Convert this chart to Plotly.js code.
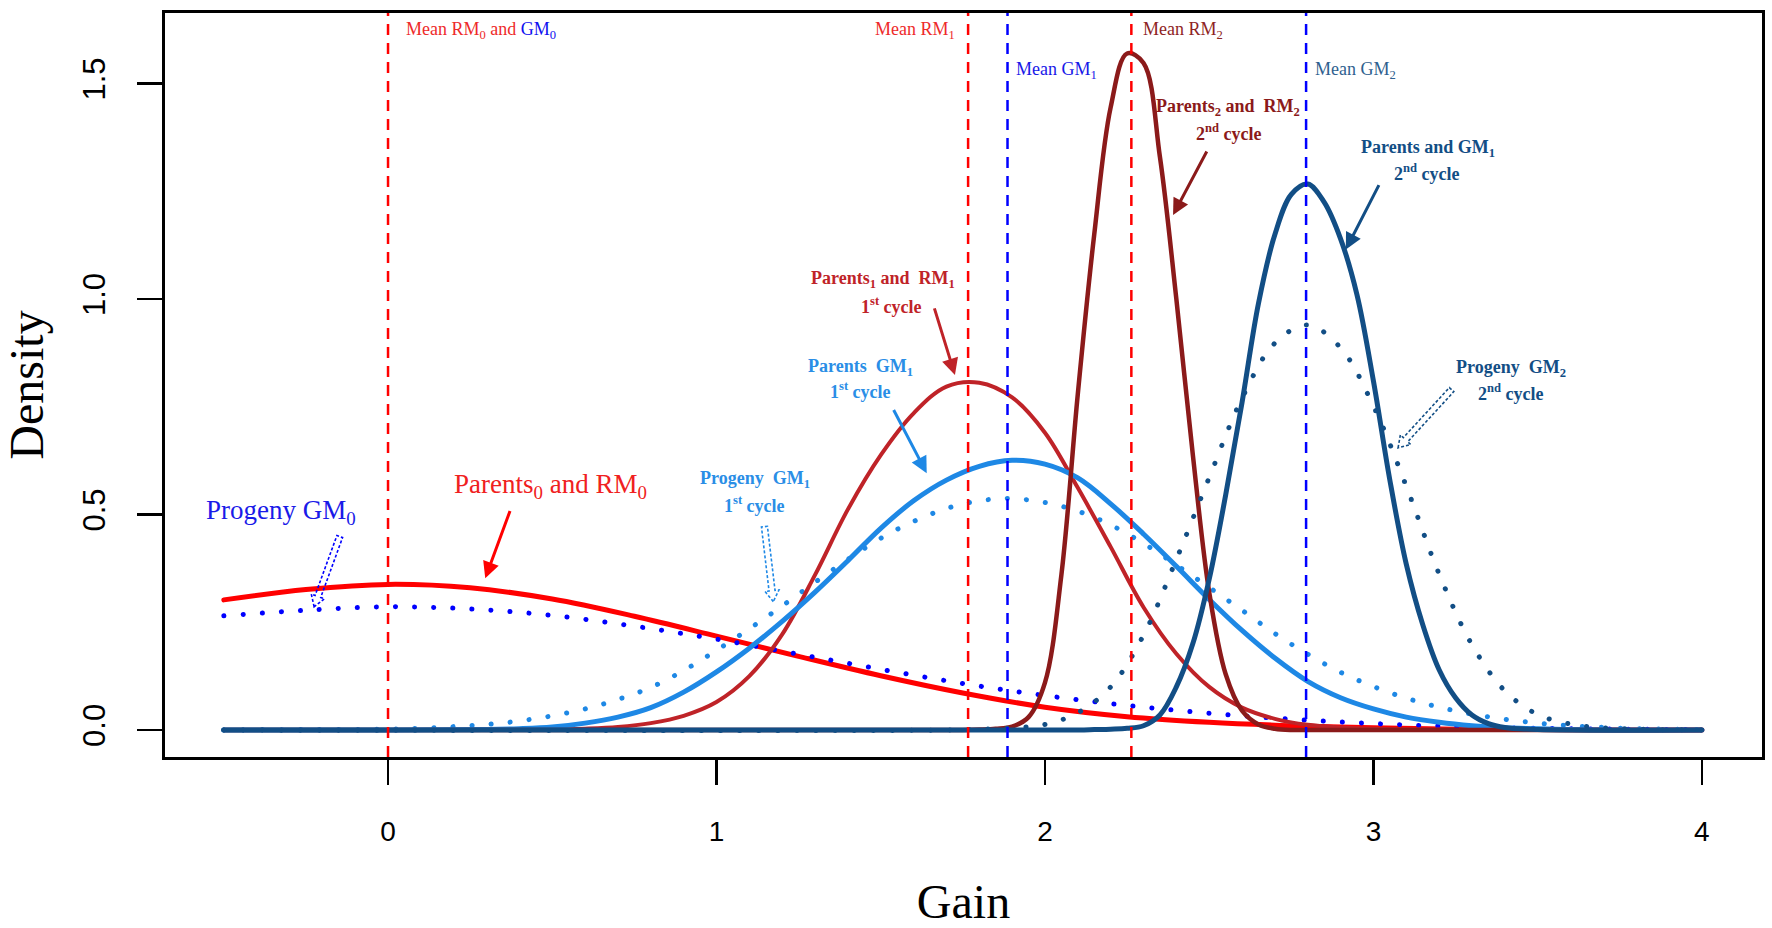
<!DOCTYPE html>
<html><head><meta charset="utf-8">
<script src="https://cdn.plot.ly/plotly-3.0.1.min.js"></script>
<style>
html,body{margin:0;padding:0;background:#fff;}
#chart{width:1772px;height:928px;}
.scatterlayer .js-line{stroke-linecap:round;}
</style></head><body><div id="chart"></div>
<script>
// ---------- data ----------
const xParents0 = [-0.5,-0.25,0,0.25,0.5,0.75,1.0,1.25,1.5,1.75,2.0,2.25,2.5,2.75,3.0,3.25,3.5,3.75,4.0];
const yParents0 = [0.302,0.326,0.338,0.330,0.304,0.264,0.218,0.171,0.126,0.086,0.053,0.031,0.018,0.010,0.005,0.002,0.001,0.0,0.0];

const xProgeny0 = [-0.5,-0.25,0,0.25,0.5,0.75,1.0,1.25,1.5,1.75,2.0,2.25,2.5,2.75,3.0,3.25,3.5,3.75,4.0];
const yProgeny0 = [0.265,0.278,0.286,0.281,0.266,0.241,0.211,0.176,0.141,0.108,0.080,0.057,0.039,0.025,0.015,0.008,0.004,0.002,0.001];

const xProgeny1 = [-0.5,-0.25,0,0.1,0.2,0.3,0.4,0.5,0.6,0.7,0.8,0.9,1.0,1.1,1.2,1.3,1.4,1.5,1.6,1.7,1.8,1.9,2.0,2.1,2.2,2.3,2.4,2.5,2.6,2.7,2.8,2.9,3.0,3.1,3.2,3.3,3.4,3.5,3.6,3.7,3.8,3.9,4.0];
const yProgeny1 = [0,0.001,0.002,0.004,0.008,0.013,0.021,0.033,0.049,0.071,0.099,0.138,0.185,0.235,0.288,0.343,0.396,0.445,0.484,0.514,0.532,0.537,0.528,0.508,0.476,0.433,0.383,0.331,0.278,0.224,0.176,0.134,0.101,0.074,0.053,0.037,0.025,0.016,0.010,0.006,0.003,0.002,0.001];

const xParentsGM1 = [-0.5,0,0.3,0.4,0.5,0.6,0.7,0.8,0.9,1.0,1.1,1.2,1.3,1.4,1.5,1.6,1.7,1.8,1.9,2.0,2.1,2.2,2.3,2.4,2.5,2.6,2.7,2.8,2.9,3.0,3.1,3.2,3.3,3.4,3.5,3.6,3.8,4.0];
const yParentsGM1 = [0,0,0.001,0.003,0.007,0.016,0.030,0.052,0.088,0.135,0.190,0.252,0.320,0.393,0.468,0.532,0.580,0.612,0.626,0.617,0.585,0.525,0.455,0.380,0.303,0.231,0.167,0.113,0.075,0.049,0.030,0.018,0.010,0.005,0.003,0.001,0,0];

const xParents1 = [-0.5,0.3,0.4,0.5,0.6,0.7,0.8,0.9,1.0,1.1,1.2,1.3,1.4,1.5,1.6,1.7,1.8,1.9,2.0,2.1,2.2,2.3,2.4,2.5,2.6,2.7,2.8,2.9,3.0,3.2,3.5,4.0];
const yParents1 = [0,0,0.0005,0.001,0.003,0.007,0.016,0.033,0.065,0.125,0.222,0.360,0.512,0.638,0.735,0.797,0.806,0.772,0.690,0.562,0.425,0.285,0.177,0.100,0.052,0.026,0.012,0.006,0.003,0.001,0,0];

const xParents2 = [-0.5,1.5,1.75,1.8,1.85,1.9,1.95,2.0,2.05,2.1,2.15,2.2,2.25,2.3,2.35,2.4,2.45,2.5,2.55,2.6,2.65,2.7,2.75,2.8,3.0,4.0];
const yParents2 = [0,0,0,0.001,0.003,0.008,0.03,0.11,0.36,0.78,1.15,1.445,1.57,1.548,1.33,1.0,0.64,0.32,0.13,0.045,0.013,0.003,0,0,0,0];

const xProgeny2 = [-0.5,1.7,1.8,1.9,2.0,2.1,2.2,2.3,2.4,2.5,2.6,2.7,2.8,2.9,3.0,3.1,3.2,3.3,3.4,3.5,3.6,3.7,3.8,4.0];
const yProgeny2 = [0,0,0.002,0.005,0.013,0.04,0.10,0.22,0.396,0.586,0.77,0.898,0.94,0.887,0.752,0.566,0.362,0.198,0.091,0.036,0.014,0.005,0.002,0];

const xParentsGM2 = [-0.5,2.1,2.15,2.2,2.25,2.3,2.35,2.4,2.45,2.5,2.55,2.6,2.65,2.7,2.75,2.8,2.85,2.9,2.95,3.0,3.05,3.1,3.15,3.2,3.25,3.3,3.35,3.4,3.5,4.0];
const yParentsGM2 = [0,0,0.001,0.002,0.004,0.01,0.035,0.1,0.2,0.35,0.545,0.76,0.99,1.15,1.243,1.267,1.225,1.14,1.01,0.81,0.58,0.385,0.245,0.14,0.075,0.035,0.015,0.006,0.001,0];

const meanX = [0, 1.766, 1.886, 2.263, 2.795];
const meanColors = ['#FF0000','#FF0000','#0000FF','#FF0000','#0000FF'];

const xTicks = [0,1,2,3,4];
const yTicks = [0,0.5,1.0,1.5];
const yTickText = ['0.0','0.5','1.0','1.5'];

// ---------- styling ----------
const C = {
  red:'#FF0000', blue:'#0000FF', fire:'#BF2328', light:'#1E88E5', dark:'#8B1A1A', navy:'#124E85'
};
const DOT = '0.1px,19px';
function tr(x,y,color,width,dash){
  return {x:x,y:y,type:'scatter',mode:'lines',hoverinfo:'skip',showlegend:false,
    line:{color:color,width:width,dash:dash||'solid',shape:'spline',smoothing:1}};
}
const traces = [
  tr(xParents0,yParents0,C.red,5),
  tr(xProgeny0,yProgeny0,C.blue,5,DOT),
  tr(xProgeny1,yProgeny1,C.light,5,DOT),
  tr(xParents1,yParents1,C.fire,4),
  tr(xParentsGM1,yParentsGM1,C.light,5),
  tr(xParents2,yParents2,C.dark,4.5),
  tr(xProgeny2,yProgeny2,C.navy,5,DOT),
  tr(xParentsGM2,yParentsGM2,C.navy,5)
];

const XR = [-0.679, 4.183], YR = [-0.0626, 1.664];
const M = {l:165, r:10, t:13, b:171};
const pxX = (1772-M.l-M.r)/(XR[1]-XR[0]);
const pxY = (928-M.t-M.b)/(YR[1]-YR[0]);

const shapes = meanX.map((mx,i)=>({type:'line',xref:'x',yref:'paper',x0:mx,x1:mx,y0:0,y1:1,
  line:{color:meanColors[i],width:2.5,dash:'11px,8px'},layer:'above'}));

function hollowArrow(tx,ty,hx,hy,color){
  const dx=(tx-hx)*pxX, dy=(ty-hy)*pxY, L=Math.hypot(dx,dy);
  const ux=dx/L, uy=dy/L, px=-uy, py=ux;
  const h=11, w=7, s=3;
  const P=[[0,0],[ux*h+px*w,uy*h+py*w],[ux*h+px*s,uy*h+py*s],[ux*L+px*s,uy*L+py*s],
           [ux*L-px*s,uy*L-py*s],[ux*h-px*s,uy*h-py*s],[ux*h-px*w,uy*h-py*w]];
  const path='M'+P.map(p=>p[0].toFixed(2)+','+p[1].toFixed(2)).join('L')+'Z';
  return {type:'path',xref:'x',yref:'y',xsizemode:'pixel',ysizemode:'pixel',xanchor:hx,yanchor:hy,
    path:path,line:{color:color,width:1.6,dash:'3px,2px'},fillcolor:'rgba(255,255,255,0)',layer:'above'};
}
shapes.push(hollowArrow(-0.147,0.449,-0.225,0.286,C.blue));
shapes.push(hollowArrow(1.146,0.472,1.173,0.298,C.light));
shapes.push(hollowArrow(3.238,0.79,3.075,0.655,C.navy));

const SERIF = 'Liberation Serif, Times New Roman, serif';
function txt(text,x,y,color,size,anchor){
  return {text:text,x:x,y:y,xref:'x',yref:'y',showarrow:false,xanchor:anchor||'center',yanchor:'middle',
    font:{family:SERIF,size:size,color:color}};
}
function arrow(tx,ty,hx,hy,color){
  return {text:'',x:hx,y:hy,ax:tx,ay:ty,xref:'x',yref:'y',axref:'x',ayref:'y',showarrow:true,
    arrowhead:2,arrowsize:1.1,arrowwidth:3,arrowcolor:color,standoff:0,startstandoff:0};
}
const B = s=>'<b>'+s+'</b>';
const annotations = [
  txt('Mean RM<sub>0</sub> and <span style="color:#1010F0">GM<sub>0</sub></span>',0.048,1.624,'#EE2A2A',18,'left'),
  txt('Mean RM<sub>1</sub>',1.732,1.624,'#EE2A2A',18,'right'),
  txt('Mean GM<sub>1</sub>',1.906,1.53,'#1818E8',18,'left'),
  txt('Mean RM<sub>2</sub>',2.291,1.624,'#8E2424',18,'left'),
  txt('Mean GM<sub>2</sub>',2.815,1.53,'#2F5F8F',18,'left'),

  txt('Parents<sub>0</sub> and RM<sub>0</sub>',0.496,0.566,'#F02020',27),
  txt('Progeny GM<sub>0</sub>',-0.327,0.506,'#1A1AE8',27),

  txt(B('Progeny  GM<sub>1</sub>'),1.116,0.582,'#2A8EE6',18),
  txt(B('1<sup>st</sup> cycle'),1.117,0.524,'#2A8EE6',18),
  txt(B('Parents  GM<sub>1</sub>'),1.439,0.842,'#2A8EE6',18),
  txt(B('1<sup>st</sup> cycle'),1.437,0.787,'#2A8EE6',18),
  txt(B('Parents<sub>1</sub> and  RM<sub>1</sub>'),1.507,1.046,C.fire,18),
  txt(B('1<sup>st</sup> cycle'),1.534,0.986,C.fire,18),
  txt(B('Parents<sub>2</sub> and  RM<sub>2</sub>'),2.557,1.445,C.dark,18),
  txt(B('2<sup>nd</sup> cycle'),2.559,1.386,C.dark,18),
  txt(B('Parents and GM<sub>1</sub>'),3.165,1.35,C.navy,18),
  txt(B('2<sup>nd</sup> cycle'),3.161,1.293,C.navy,18),
  txt(B('Progeny  GM<sub>2</sub>'),3.419,0.838,C.navy,18),
  txt(B('2<sup>nd</sup> cycle'),3.417,0.783,C.navy,18),

  arrow(0.373,0.512,0.296,0.352,C.red),
  arrow(1.662,0.982,1.726,0.824,C.fire),
  arrow(1.537,0.746,1.64,0.596,C.light),
  arrow(2.495,1.346,2.39,1.195,C.dark),
  arrow(3.019,1.268,2.916,1.115,C.navy)
];

const axisCommon = {showgrid:false,zeroline:false,showline:true,mirror:true,linecolor:'#000',linewidth:3,
  ticks:'outside',ticklen:25,tickwidth:2.5,tickcolor:'#000'};
const layout = {
  width:1772,height:928,margin:M,paper_bgcolor:'#fff',plot_bgcolor:'#fff',showlegend:false,
  xaxis:Object.assign({},axisCommon,{range:XR,tickvals:xTicks,ticktext:xTicks.map(String),
    ticklabelstandoff:22,tickfont:{family:'Liberation Sans, Arial, sans-serif',size:28,color:'#000'},
    title:{text:'Gain',font:{family:SERIF,size:48,color:'#000'},standoff:39}}),
  yaxis:Object.assign({},axisCommon,{range:YR,tickvals:yTicks,ticktext:yTickText,tickangle:-90,
    ticklabelstandoff:20,tickfont:{family:'Liberation Sans, Arial, sans-serif',size:31,color:'#000'},
    title:{text:'Density',font:{family:SERIF,size:48,color:'#000'},standoff:28}}),
  shapes:shapes,annotations:annotations
};
Plotly.newPlot('chart',traces,layout,{staticPlot:true,displayModeBar:false});
</script></body></html>
